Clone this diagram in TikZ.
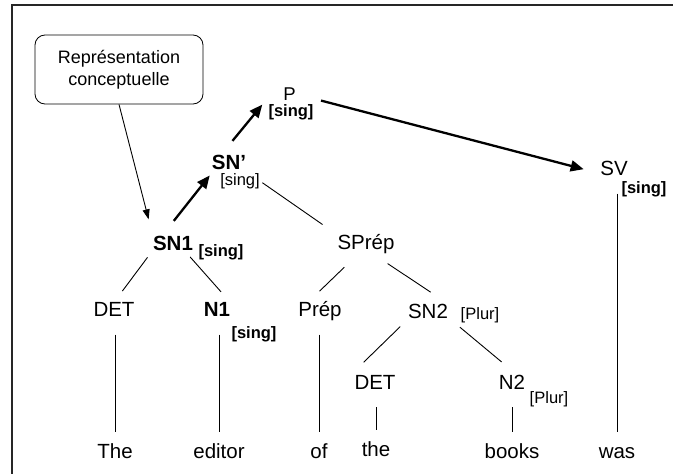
\documentclass[tikz,border=0pt]{standalone}
\usepackage{fontspec}
\setmainfont{Liberation Sans}
\usetikzlibrary{arrows.meta}

\begin{document}
\begin{tikzpicture}[x=1pt,y=-1pt,
  cat/.style={inner sep=0pt,text height=14pt,text depth=0pt,font=\fontsize{20.5}{24}\selectfont},
  bcat/.style={cat,font=\fontsize{20.5}{24}\selectfont\bfseries},
  feat/.style={inner sep=0pt,font=\fontsize{16.5}{19}\selectfont},
  bfeat/.style={feat,font=\fontsize{16.5}{19}\selectfont\bfseries},
  branch/.style={line width=0.9pt},
  leaf/.style={line width=0.9pt,shorten <=18pt,shorten >=12pt},
  bigarrow/.style={line width=2.3pt,-{Triangle[length=13pt,width=11pt]}}]
  \useasboundingbox (0,0) rectangle (673,474);
  \draw[line width=1.6pt,black!85] (12,474) -- (12,5) -- (673,5);

  \node[draw,rounded corners=10pt,minimum width=168pt,minimum height=69pt,align=center,
    line width=0.8pt,font=\fontsize{18}{21.5}\selectfont] (concept) at (119,69.5) {Représentation\\conceptuelle};

  % categories
  \node[bcat] (sn1) at (173,243) {SN1};
  \node[bfeat] (sn1f) at (221,252) {[sing]};
  \node[bcat] (snp) at (229,162) {SN'};
  \node[feat] (snpf) at (240,181) {[sing]};
  \node[cat,text height=13pt,font=\fontsize{18.5}{22}\selectfont] (p) at (289.5,94) {P};
  \node[bfeat] (pf) at (291,112.5) {[sing]};
  \node[cat] (sv) at (614,168.5) {SV};
  \node[bfeat] (svf) at (644,189) {[sing]};
  \node[cat] (sprep) at (366,242) {SPrép};
  \node[cat] (det1) at (114,309.5) {DET};
  \node[bcat] (n1) at (217,309.5) {N1};
  \node[bfeat] (n1f) at (254,334) {[sing]};
  \node[cat] (prep) at (320,309.5) {Prép};
  \node[cat] (sn2) at (428,311) {SN2};
  \node[feat] (sn2f) at (480,315) {[Plur]};
  \node[cat] (det2) at (375,382) {DET};
  \node[cat] (n2) at (512,382) {N2};
  \node[feat] (n2f) at (549,399) {[Plur]};

  % words
  \node[cat] (the1) at (115,451.5) {The};
  \node[cat] (editor) at (219,451.5) {editor};
  \node[cat] (of) at (319,451.5) {of};
  \node[cat] (the2) at (376,449.5) {the};
  \node[cat] (books) at (512,451.5) {books};
  \node[cat] (was) at (617,451.5) {was};

  % arrows
  \draw[line width=0.9pt,-{Triangle[length=10pt,width=7pt]},shorten >=17pt] (concept.south) -- (sn1.north west);
  \draw[bigarrow,shorten <=19pt,shorten >=8pt] ([xshift=-11pt]sn1.north) -- ([xshift=3pt]snp.south west);
  \draw[bigarrow,shorten <=18pt,shorten >=5pt] ([xshift=-8pt]snp.north) -- ([xshift=-24pt]p.south);
  \draw[bigarrow,shorten <=26pt,shorten >=17pt] (p.east) -- ([yshift=-5pt]sv.west);

  % branches
  \draw[branch,shorten <=3pt,shorten >=18pt] (snpf.east) -- (sprep.north west);
  \draw[branch,shorten <=9pt,shorten >=14pt] (sn1.south west) -- (det1.north);
  \draw[branch,shorten <=9pt,shorten >=14pt] ([xshift=-9pt]sn1.south east) -- (n1.north east);
  \draw[branch,shorten <=26pt,shorten >=16pt] ([xshift=-3pt]sprep.south) -- ([xshift=-12pt]prep.north);
  \draw[branch,shorten <=26pt,shorten >=21pt] (sprep.south) -- (sn2.north east);
  \draw[branch,shorten <=12pt,shorten >=18pt] ([xshift=1pt]sn2.south west) -- ([xshift=-3.5pt]det2.north west);
  \draw[branch,shorten <=14pt,shorten >=20pt] ([xshift=1pt]sn2.south east) -- ([xshift=5pt]n2.north);

  % leaves
  \draw[leaf] (det1.south -| the1.north) -- (the1.north);
  \draw[leaf] (n1.south -| editor.north) -- (editor.north);
  \draw[leaf] (prep.south -| of.north) -- (of.north);
  \draw[leaf] (det2.south -| the2.north) -- (the2.north);
  \draw[leaf] (n2.south -| books.north) -- (books.north);
  \draw[leaf] (sv.south -| was.north) -- (was.north);
\end{tikzpicture}
\end{document}
